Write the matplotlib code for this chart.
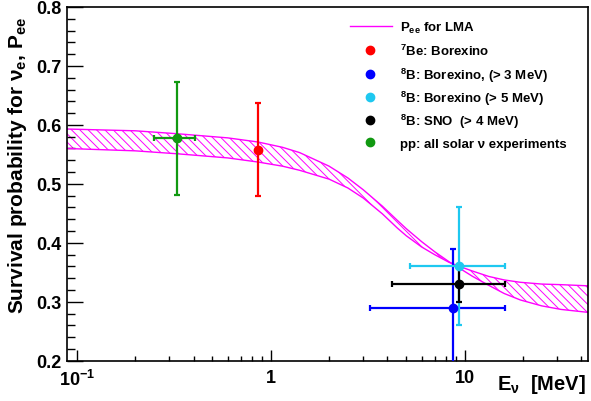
import matplotlib
matplotlib.use("Agg")
import matplotlib.pyplot as plt
from matplotlib.ticker import FixedLocator, FixedFormatter, NullFormatter

# ---------------- data ----------------
band_E = [0.089, 0.2, 0.33, 0.6, 0.86, 1.15, 1.41, 2.0, 2.5, 3.0, 3.77, 4.5, 5.0, 6.0, 7.0, 8.3, 9.4, 11.0, 13.3, 16.0, 19.4, 25.0, 31.4, 43.3]
band_hi = [0.593, 0.590, 0.585, 0.578, 0.571, 0.562, 0.553, 0.530, 0.510, 0.490, 0.462, 0.438, 0.424, 0.402, 0.385, 0.368, 0.357, 0.343, 0.328, 0.314, 0.303, 0.293, 0.287, 0.282]
band_lo = [0.560, 0.556, 0.551, 0.544, 0.537, 0.530, 0.523, 0.508, 0.493, 0.476, 0.449, 0.425, 0.412, 0.393, 0.380, 0.367, 0.360, 0.352, 0.343, 0.337, 0.333, 0.330, 0.329, 0.327]

labels = ["$^{7}$Be: Borexino",
          "$^{8}$B: Borexino, (> 3 MeV)",
          "$^{8}$B: Borexino (> 5 MeV)",
          "$^{8}$B: SNO  (> 4 MeV)",
          "pp: all solar \u03bd experiments"]
colors = ["#ff0000", "#0000ff", "#1ec8f0", "#000000", "#119911"]
pt_E = [0.862, 8.7, 9.39, 9.39, 0.328]
pt_P = [0.558, 0.290, 0.360, 0.330, 0.577]
pt_Perr = [0.079, 0.100, 0.100, 0.030, 0.096]
pt_Elo = [0.862, 3.24, 5.22, 4.22, 0.249]
pt_Ehi = [0.862, 16.2, 16.2, 16.2, 0.406]

xticks = [0.1, 1, 10]
xticklabels = ["10$^{-1}$", "1", "10"]
yticks = [0.2, 0.3, 0.4, 0.5, 0.6, 0.7, 0.8]
yticklabels = ["0.2", "0.3", "0.4", "0.5", "0.6", "0.7", "0.8"]

# ---------------- style ----------------
plt.rcParams['font.family'] = ['Liberation Sans', 'DejaVu Sans']
plt.rcParams['font.weight'] = 'bold'
plt.rcParams['mathtext.fontset'] = 'custom'
plt.rcParams['mathtext.rm'] = 'Liberation Sans:bold'
plt.rcParams['mathtext.bf'] = 'Liberation Sans:bold'
plt.rcParams['mathtext.it'] = 'Liberation Sans:bold'
plt.rcParams['mathtext.default'] = 'bf'
plt.rcParams['hatch.linewidth'] = 0.7

W, H = 591, 402
fig = plt.figure(figsize=(W / 100, H / 100), dpi=100)
L, R, T, B = 67, 588, 8, 361.7
ax = fig.add_axes([L / W, (H - B) / H, (R - L) / W, (B - T) / H])

mag = "#ff00ff"
ax.fill_between(band_E, band_hi, band_lo, facecolor='none', edgecolor=mag,
                hatch='\\\\\\\\', linewidth=0)
ax.plot(band_E, band_hi, color=mag, lw=1.0)
ax.plot(band_E, band_lo, color=mag, lw=1.0)

order = [1, 2, 3, 0, 4]
for i in order:
    xe = [[pt_E[i] - pt_Elo[i]], [pt_Ehi[i] - pt_E[i]]]
    has_x = pt_Ehi[i] > pt_Elo[i]
    ax.errorbar([pt_E[i]], [pt_P[i]], yerr=[pt_Perr[i]],
                xerr=xe if has_x else None,
                fmt='o', color=colors[i], ms=6, elinewidth=1.6,
                capsize=2.2, capthick=1.6, zorder=3)

ax.set_xscale('log')
ax.set_xlim(0.089, 43.3)
ax.set_ylim(0.2, 0.8)

ax.xaxis.set_major_locator(FixedLocator(xticks))
ax.xaxis.set_major_formatter(FixedFormatter(xticklabels))
minors = [m * d for d in (0.1, 1, 10) for m in range(2, 10)]
ax.xaxis.set_minor_locator(FixedLocator(minors))
ax.xaxis.set_minor_formatter(NullFormatter())
ax.yaxis.set_major_locator(FixedLocator(yticks))
ax.yaxis.set_major_formatter(FixedFormatter(yticklabels))
ax.yaxis.set_minor_locator(FixedLocator([0.2 + 0.02 * k for k in range(31)]))

ax.tick_params(axis='y', which='major', direction='in', length=11.5, width=1.0, labelsize=13, pad=4)
ax.tick_params(axis='y', which='minor', direction='in', length=5.8, width=1.0)
ax.tick_params(axis='x', which='major', direction='in', length=7.6, width=1.0, labelsize=13, pad=6)
ax.tick_params(axis='x', which='minor', direction='in', length=3.8, width=1.0)
for s in ax.spines.values():
    s.set_linewidth(1.2)

fig.text(18 / W, 1 - 17 / H, "Survival probability for \u03bd$_{e}$, P$_{ee}$",
         rotation=90, ha='center', va='top', fontsize=15, fontweight='bold')
fig.text(586 / W, 1 - 385 / H, "E$_{\\nu}$  [MeV]", ha='right', va='center',
         fontsize=14.5, fontweight='bold')

# ---------------- legend (manual, in pixel space) ----------------
lg = fig.add_axes([0, 0, 1, 1], facecolor='none')
lg.set_xlim(0, W)
lg.set_ylim(H, 0)
lg.axis('off')
rows = [27, 51, 75, 98, 121, 143]
lg.plot([350, 392], [rows[0], rows[0]], color=mag, lw=1.0)
lg.text(400, rows[0] + 4.6, "P$_{ee}$ for LMA", ha='left', va='baseline',
        fontsize=9.5, fontweight='bold')
for i in range(5):
    lg.plot([370], [rows[i + 1]], marker='o', ls='none', color=colors[i], ms=6)
    lg.text(400, rows[i + 1] + 4.6, labels[i], ha='left', va='baseline',
            fontsize=9.5, fontweight='bold')

fig.savefig("out.png", dpi=100)
